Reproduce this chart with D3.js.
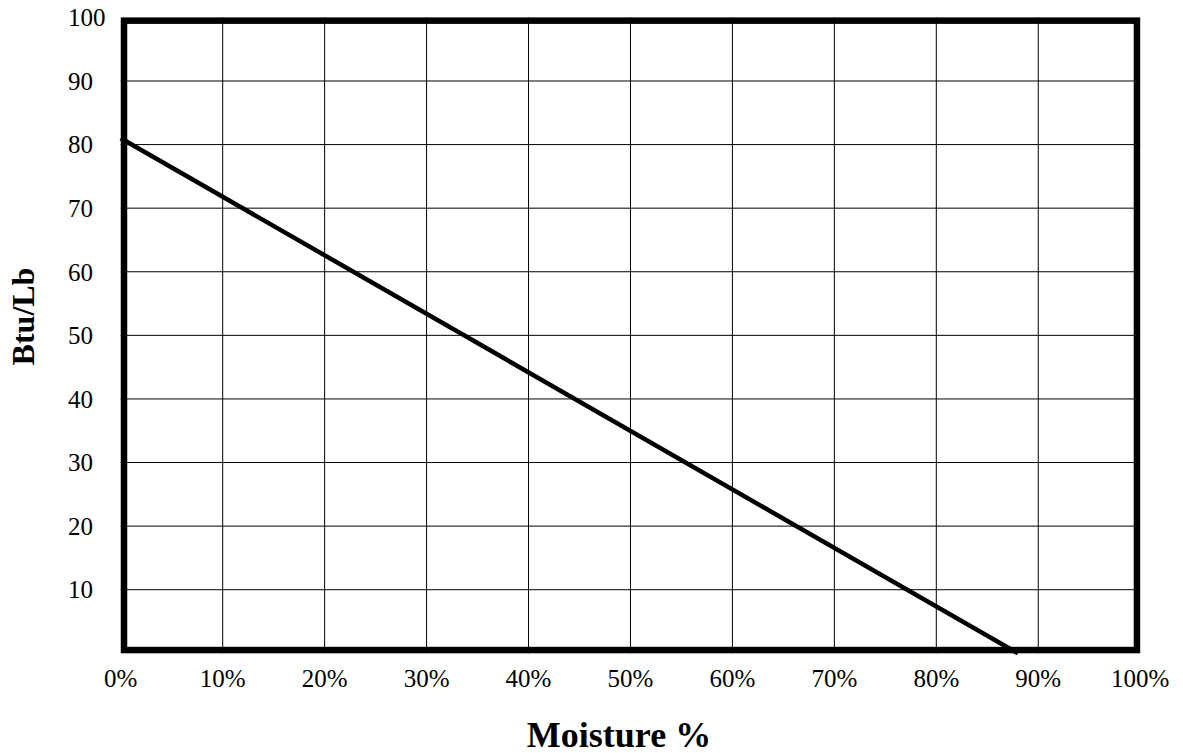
<!DOCTYPE html>
<html>
<head>
<meta charset="utf-8">
<script src="https://cdn.jsdelivr.net/npm/d3@7"></script>
<style>
  html, body { margin: 0; padding: 0; background: #fff; }
  svg { display: block; }
  text { font-family: "Liberation Serif", "Times New Roman", serif; fill: #000; }
</style>
</head>
<body>
<svg id="chart" width="1183" height="753"></svg>
<script>
// Data
const moisture = [0, 88];          // Moisture %
const btuPerLb = [81, 0];          // Btu/Lb
const xTicks = [0, 10, 20, 30, 40, 50, 60, 70, 80, 90, 100];
const yTicks = [10, 20, 30, 40, 50, 60, 70, 80, 90, 100];
const xTitle = "Moisture %";
const yTitle = "Btu/Lb";

(function () {
const svg = d3.select("#chart");
const pL = 120.75, pR = 1140.2, pT = 17.4, pB = 653.3;

const x = d3.scaleLinear().domain([0, 100]).range([pL, pR]);
const y = d3.scaleLinear().domain([0, 100]).range([pB, pT]);

// Grid
const grid = svg.append("g");
grid.selectAll("line.v").data(xTicks.filter(d => d > 0 && d < 100)).enter()
  .append("line").attr("class", "v")
  .attr("x1", d => x(d)).attr("x2", d => x(d))
  .attr("y1", pT).attr("y2", pB)
  .attr("stroke", "#000").attr("stroke-width", 1);
grid.selectAll("line.h").data(yTicks.filter(d => d > 0 && d < 100)).enter()
  .append("line").attr("class", "h")
  .attr("x1", pL).attr("x2", pR)
  .attr("y1", d => y(d)).attr("y2", d => y(d))
  .attr("stroke", "#000").attr("stroke-width", 1);

// Border (drawn inside the plot area)
const bw = 6.5;
svg.append("rect")
  .attr("x", pL + bw / 2).attr("y", pT + bw / 2)
  .attr("width", pR - pL - bw).attr("height", pB - pT - bw)
  .attr("fill", "none").attr("stroke", "#000").attr("stroke-width", bw);

// Y tick labels (left-aligned)
svg.append("g").selectAll("text").data(yTicks).enter()
  .append("text")
  .attr("x", 68).attr("y", d => y(d))
  .attr("dy", "0.35em")
  .attr("font-size", 25)
  .text(d => d);

// X tick labels
svg.append("g").selectAll("text").data(xTicks).enter()
  .append("text")
  .attr("x", d => x(d)).attr("y", 687)
  .attr("text-anchor", "middle")
  .attr("font-size", 25)
  .text(d => d + "%");

// Line
const pts = moisture.map((m, i) => [m, btuPerLb[i]]);
svg.append("path")
  .datum(pts)
  .attr("fill", "none").attr("stroke", "#000").attr("stroke-width", 4.5)
  .attr("d", d3.line().x(d => x(d[0])).y(d => y(d[1])));

// Axis titles
svg.append("text")
  .attr("x", 619).attr("y", 746.5)
  .attr("text-anchor", "middle")
  .attr("font-size", 36).attr("font-weight", "bold")
  .text(xTitle);

svg.append("text")
  .attr("transform", "translate(34,316.5) rotate(-90)")
  .attr("text-anchor", "middle")
  .attr("font-size", 32).attr("font-weight", "bold")
  .text(yTitle);
})();
</script>
</body>
</html>
